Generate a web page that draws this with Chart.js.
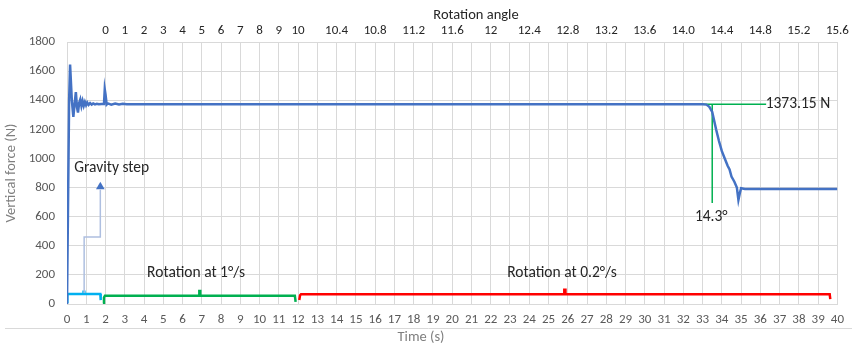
<!DOCTYPE html>
<html>
<head>
<meta charset="utf-8">
<script src="https://cdn.jsdelivr.net/npm/chart.js@4.4.0/dist/chart.umd.min.js"></script>
<style>
  html, body { margin: 0; padding: 0; background: #fff; }
  #wrap { width: 852px; height: 347px; position: relative; }
</style>
</head>
<body>
<div id="wrap"><canvas id="chart"></canvas></div>
<script>
const FONT = 'Carlito, Calibri, "Open Sans", sans-serif';

// vertical force over time
const forceTime = [0, 0.05, 0.11, 0.16, 0.25, 0.33, 0.4, 0.46, 0.52, 0.57, 0.63, 0.69, 0.75, 0.81, 0.87, 0.93, 0.99, 1.05, 1.12, 1.2, 1.28, 1.36, 1.45, 1.55, 1.65, 1.8, 1.92, 1.96, 2.0, 2.06, 2.12, 2.3, 2.5, 2.7, 2.9, 3.1, 33.0, 33.2, 33.35, 33.5, 33.7, 33.85, 34.0, 34.15, 34.3, 34.4, 34.5, 34.65, 34.78, 34.86, 34.93, 35.0, 35.2, 40];
const forceValue = [0, 0, 1400, 1645, 1400, 1285, 1380, 1455, 1350, 1315, 1380, 1405, 1360, 1395, 1362, 1388, 1366, 1384, 1368, 1380, 1370, 1378, 1371, 1376, 1372, 1374, 1374, 1475, 1440, 1370, 1378, 1370, 1377, 1371, 1375, 1373, 1373, 1370, 1355, 1320, 1200, 1120, 1050, 1000, 950, 925, 875, 840, 800, 715, 760, 795, 790, 790];

// brackets marking the phases
const gravityTime = [0.02, 0.02, 0.86, 0.86, 0.9, 0.9, 1.73, 1.75];
const gravityValue = [5, 69, 69, 85, 85, 69, 69, 27];
const arrowTime = [0.89, 0.89, 1.73, 1.73];
const arrowValue = [75, 460, 460, 785];
const arrowHeadTime = [1.73];
const arrowHeadValue = [805];
const rot1Time = [1.87, 1.92, 1.97, 6.87, 6.87, 6.92, 6.92, 11.83, 11.87];
const rot1Value = [3, 45, 57, 57, 90, 90, 57, 57, 15];
const rot02Time = [12.06, 12.1, 12.15, 25.82, 25.82, 25.88, 25.88, 39.6, 39.63];
const rot02Value = [27, 60, 67, 67, 98, 98, 67, 67, 34];

// marker lines for the drop point
const levelTime = [33.0, 36.3];
const levelValue = [1373, 1373];
const dropTime = [33.5, 33.5];
const dropValue = [1373, 694];

// top axis: rotation angle ticks
const topTickTimes = [2, 3, 4, 5, 6, 7, 8, 9, 10, 11, 12, 14, 16, 18, 20, 22, 24, 26, 28, 30, 32, 34, 36, 38, 40];
const topTickLabels = ['0', '1', '2', '3', '4', '5', '6', '7', '8', '9', '10', '10.4', '10.8', '11.2', '11.6', '12', '12.4', '12.8', '13.2', '13.6', '14.0', '14.4', '14.8', '15.2', '15.6'];

// text notes
const noteTexts = ['Gravity step', 'Rotation at 1°/s', 'Rotation at 0.2°/s', '1373.15 N', '14.3°'];
const noteTimes = [2.32, 6.7, 25.7, 37.95, 33.45];
const noteValues = [934, 213, 213, 1373, 598];

const pts = (xs, ys) => xs.map((x, i) => ({ x, y: ys[i] }));

function lineSet(data, color, width) {
  return {
    data, borderColor: color, backgroundColor: color, borderWidth: width,
    pointRadius: 0, tension: 0, fill: false,
  };
}

const notesPlugin = {
  id: 'notes',
  afterDatasetsDraw(chart) {
    const { ctx, scales: { x, y } } = chart;
    ctx.save();
    ctx.fillStyle = '#262626';
    ctx.font = '15.5px ' + FONT;
    ctx.textAlign = 'center';
    ctx.textBaseline = 'middle';
    noteTexts.forEach((t, i) => {
      ctx.fillText(t, x.getPixelForValue(noteTimes[i]), y.getPixelForValue(noteValues[i]));
    });
    // axis titles
    ctx.fillStyle = '#262626';
    ctx.font = '14.5px ' + FONT;
    ctx.fillText('Rotation angle', 476, 15);
    ctx.fillStyle = '#7f7f7f';
    ctx.fillText('Time (s)', 421, 337);
    // bottom separator
    ctx.strokeStyle = '#d9d9d9';
    ctx.lineWidth = 1;
    ctx.beginPath();
    ctx.moveTo(5, 328.5);
    ctx.lineTo(852, 328.5);
    ctx.stroke();
    ctx.restore();
  }
};

new Chart(document.getElementById('chart'), {
  type: 'line',
  data: {
    datasets: [
      lineSet(pts(forceTime, forceValue), '#4472c4', 2.5),
      lineSet(pts(levelTime, levelValue), '#00b050', 1.5),
      lineSet(pts(dropTime, dropValue), '#00b050', 1.5),
      Object.assign(lineSet(pts(arrowHeadTime, arrowHeadValue), '#4472c4', 1), {
        showLine: false, pointRadius: 5, pointStyle: 'triangle', pointBorderWidth: 0,
      }),
      lineSet(pts(arrowTime, arrowValue), '#aebfe0', 1.5),
      lineSet(pts(gravityTime, gravityValue), '#00b0f0', 2.5),
      lineSet(pts(rot1Time, rot1Value), '#00b050', 2.5),
      lineSet(pts(rot02Time, rot02Value), '#ff0000', 2.5),
    ],
  },
  options: {
    responsive: true,
    maintainAspectRatio: false,
    animation: false,
    layout: { padding: { left: 0, right: 9, top: 0, bottom: 0 } },
    plugins: { legend: { display: false }, tooltip: { enabled: false } },
    scales: {
      x: {
        type: 'linear', position: 'bottom', min: 0, max: 40,
        afterFit(s) { s.height = 43; },
        grid: { color: '#d9d9d9', drawTicks: false },
        border: { color: '#d9d9d9' },
        ticks: {
          stepSize: 1, autoSkip: false, maxRotation: 0, padding: 8,
          color: '#595959', font: { family: FONT, size: 13 },
        },
      },
      x2: {
        type: 'linear', position: 'top', min: 0, max: 40,
        afterFit(s) { s.height = 42; },
        afterBuildTicks(s) { s.ticks = topTickTimes.map(v => ({ value: v })); },
        grid: { display: false, drawTicks: false },
        border: { display: false },
        ticks: {
          autoSkip: false, maxRotation: 0, padding: 3,
          color: '#262626', font: { family: FONT, size: 13 },
          callback: (v, i) => topTickLabels[i],
        },
      },
      y: {
        min: 0, max: 1800,
        afterFit(s) { s.width = 67; },
        grid: { color: '#d9d9d9', drawTicks: false },
        border: { color: '#d9d9d9' },
        ticks: {
          stepSize: 200, padding: 12, color: '#595959', font: { family: FONT, size: 13 },
          callback: v => String(v),
        },
        title: {
          display: true, text: 'Vertical force (N)', color: '#7f7f7f',
          font: { family: FONT, size: 14.5 }, padding: { top: 3, bottom: 0 },
        },
      },
    },
  },
  plugins: [notesPlugin],
});
</script>
</body>
</html>
